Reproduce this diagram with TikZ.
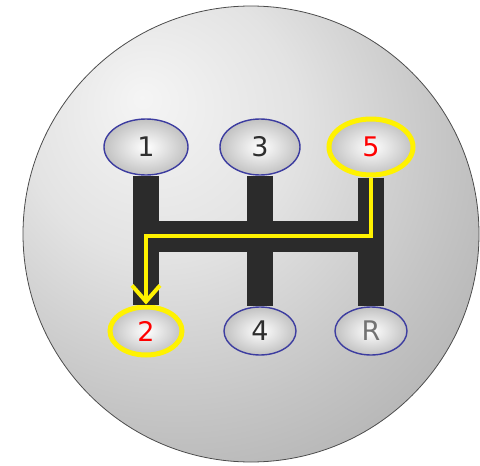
\documentclass[tikz,border=0pt]{standalone}
\usepackage{fontspec}
\setmainfont{DejaVu Sans}
\usetikzlibrary{shapes.geometric,arrows.meta,calc}
\definecolor{rim}{RGB}{60,60,160}
\pgfdeclareradialshading{knob}{\pgfpoint{-12bp}{15bp}}{color(0bp)=(black!4); color(15bp)=(black!11); color(30bp)=(black!23); color(45bp)=(black!34); color(60bp)=(black!42); color(90bp)=(black!50)}
\tikzset{
  gear/.style={ellipse, draw=rim, line width=1.4pt, inner sep=0pt,
    inner color=white, outer color=black!24,
    font=\fontsize{27}{27}\selectfont, text=black!82},
  top/.style={minimum width=84pt, minimum height=56pt},
  bottom/.style={minimum width=72pt, minimum height=48pt},
  picked/.style={draw=yellow, line width=5pt, text=red},
  bar/.style={line width=26pt, draw=black!83},
  route/.style={draw=yellow, line width=4.5pt, line join=miter,
    -{Straight Barb[length=16pt,width=28pt,line width=4pt]}}
}
\begin{document}
\begin{tikzpicture}[x=1pt, y=-1pt, line cap=butt]
  \useasboundingbox (0,0) rectangle (480,466);
  % knob
  \draw[draw=black!70, line width=0.8pt, shading=knob] (251,234) circle[radius=228];
  % gears
  \node[gear, top] (g1) at (146,147) {1};
  \node[gear, top, minimum width=80pt] (g3) at (260,147) {3};
  \node[gear, top, picked] (g5) at (371,147) {5};
  \node[gear, bottom, picked] (g2) at (146,331) {2};
  \node[gear, bottom] (g4) at (260,331) {4};
  \node[gear, bottom, text=black!55] (gR) at (371,331) {R};
  \coordinate (turn) at ($(g1.south)!0.47!(g2.north)$);
  % gate
  \draw[bar] (g1.south) -- (g2.north);
  \draw[bar] (g3.south) -- (g4.north);
  \draw[bar] (g5.south) -- (gR.north);
  \draw[bar, line width=31pt, shorten <=-13pt, shorten >=-13pt]
    (g1 |- turn) -- (g5 |- turn);
  % shift 5 -> 2
  \draw[route] (g5.south) |- (turn) -- (g2.north);
\end{tikzpicture}
\end{document}
